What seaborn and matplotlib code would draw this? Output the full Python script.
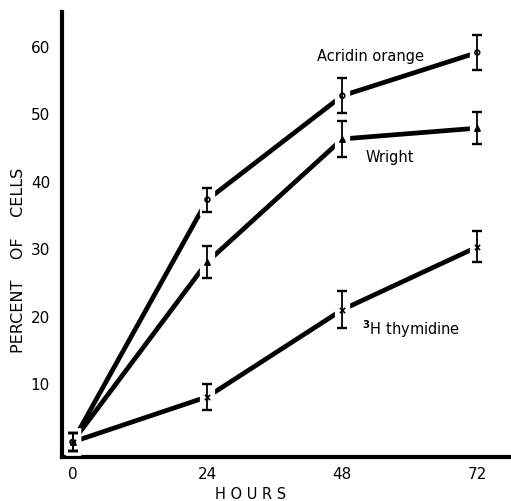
import matplotlib
matplotlib.use('Agg')
import matplotlib.pyplot as plt
import seaborn as sns
import pandas as pd

hours = [0, 24, 48, 72]

acridin = [1.3, 37.2, 52.6, 59.0]
acridin_err = [1.4, 1.8, 2.6, 2.6]

wright = [1.3, 28.0, 46.2, 47.8]
wright_err = [1.4, 2.4, 2.7, 2.4]

thymidine = [1.3, 8.0, 20.9, 30.2]
thymidine_err = [1.4, 1.9, 2.7, 2.3]

series = ['Acridin orange', 'Wright', '3H thymidine']
markers = {'Acridin orange': 'o', 'Wright': '^', '3H thymidine': 'x'}

data = pd.DataFrame({
    'hours': hours * 3,
    'percent': acridin + wright + thymidine,
    'err': acridin_err + wright_err + thymidine_err,
    'stain': [s for s in series for _ in hours],
})

sns.set_style('white')
plt.rcParams['font.family'] = ['DejaVu Sans']
plt.rcParams['text.color'] = 'black'

fig = plt.figure(figsize=(5.11, 5.02), dpi=100)
ax = fig.add_axes([0.121, 0.088, 0.879, 0.886])

sns.lineplot(ax=ax, data=data, x='hours', y='percent', units='stain',
             estimator=None, color='black', linewidth=3.4, legend=False)
for ln in ax.lines:
    ln.set_zorder(1)
    ln.set_solid_capstyle('butt')

for stain, sub in data.groupby('stain'):
    # white band behind each error bar gives the gap in the line
    ax.errorbar(sub['hours'].to_numpy(), sub['percent'].to_numpy(),
                yerr=sub['err'].to_numpy() + 0.6, fmt='none',
                ecolor='white', elinewidth=11, capsize=0, zorder=3)
    ax.errorbar(sub['hours'].to_numpy(), sub['percent'].to_numpy(),
                yerr=sub['err'].to_numpy(), fmt='none',
                ecolor='black', elinewidth=1.3, capsize=3.5, capthick=1.7, zorder=4)
    ax.scatter(sub['hours'], sub['percent'], marker=markers[stain],
               s=14 if stain != 'Acridin orange' else 12,
               facecolors='none' if stain == 'Acridin orange' else 'black',
               edgecolors='black', linewidths=1.2, zorder=5)

ax.set_xlim(-1.9, 78)
ax.set_ylim(-0.9, 65)
ax.set_xticks(hours)
ax.set_yticks([0, 10, 20, 30, 40, 50, 60])
ax.set_yticklabels(['', '10', '20', '30', '40', '50', '60'])

for side in ['top', 'right']:
    ax.spines[side].set_visible(False)
for side in ['left', 'bottom']:
    ax.spines[side].set_linewidth(3)
    ax.spines[side].set_color('black')

ax.tick_params(axis='both', direction='inout', length=9, width=1.5,
               colors='black', labelsize=11)
ax.tick_params(axis='y', pad=4)
ax.tick_params(axis='x', pad=2)

ax.set_xlabel('H O U R S', fontsize=10.5, color='black')
ax.xaxis.set_label_coords(0.42, -0.065)
ax.set_ylabel('PERCENT    OF    CELLS', fontsize=11.5, color='black')
ax.yaxis.set_label_coords(-0.08, 0.445)

ax.text(53.0, 58.5, 'Acridin orange', fontsize=10.5, ha='center', va='center')
ax.text(56.4, 43.6, 'Wright', fontsize=10.5, ha='center', va='center')
ax.text(60.3, 18.1, r'$^{\mathbf{3}}$H thymidine', fontsize=10.5, ha='center', va='center')

fig.savefig('out.png', dpi=100)
